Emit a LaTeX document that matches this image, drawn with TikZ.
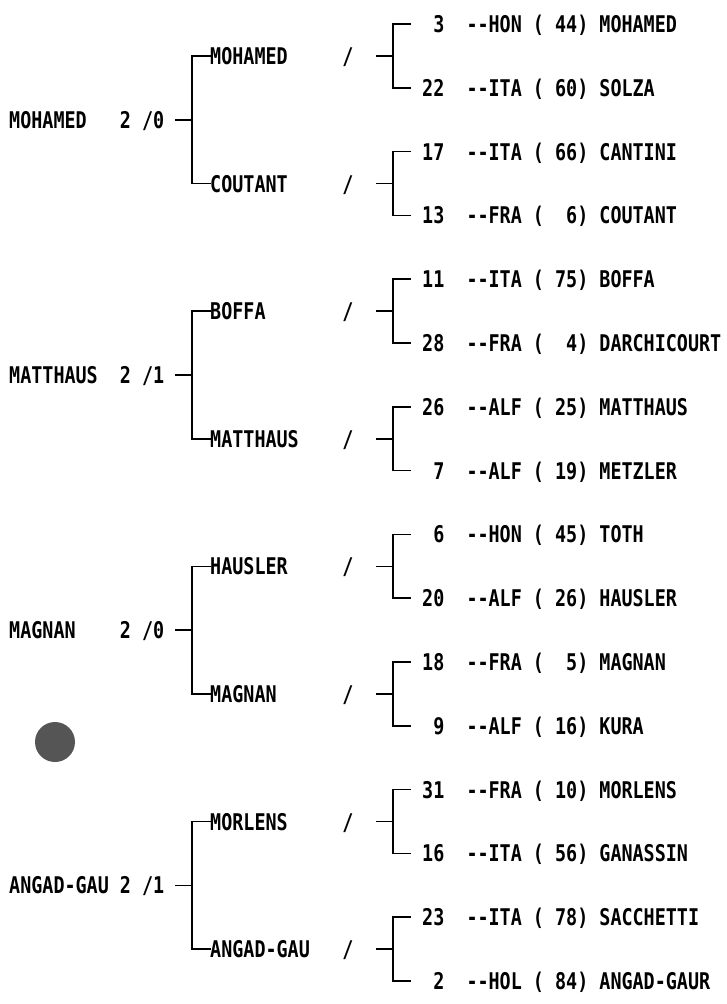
\documentclass[tikz,border=0pt]{standalone}
\usepackage{fontspec}
\newfontfamily\dm[FakeStretch=0.80]{DejaVu Sans Mono}
\newcommand\myb{\hphantom{0}}
\newcommand\rowtxt[4]{#1\myb\myb--#2\myb(#3)\myb#4}
\definecolor{dotgray}{RGB}{85,85,85}
\begin{document}
\begin{tikzpicture}[x=1pt,y=-1pt,
  txt/.style={inner sep=0pt, anchor=west, text height=17pt, text depth=0pt,
              font=\dm\bfseries\fontsize{23}{23}\selectfont},
  slash/.style={inner sep=0pt, anchor=center, text height=17pt, text depth=0pt,
              font=\dm\bfseries\fontsize{23}{23}\selectfont},
  ln/.style={line width=1.6pt, line cap=rect}]
\useasboundingbox (0,0) rectangle (726,1004);
% right column
\node[txt] (r1)  at (422,24.0)  {\rowtxt{\myb3}{HON}{\myb44}{MOHAMED}};
\node[txt] (r2)  at (422,87.8)  {\rowtxt{22}{ITA}{\myb60}{SOLZA}};
\node[txt] (r3)  at (422,151.6) {\rowtxt{17}{ITA}{\myb66}{CANTINI}};
\node[txt] (r4)  at (422,215.4) {\rowtxt{13}{FRA}{\myb\myb6}{COUTANT}};
\node[txt] (r5)  at (422,279.2) {\rowtxt{11}{ITA}{\myb75}{BOFFA}};
\node[txt] (r6)  at (422,343.0) {\rowtxt{28}{FRA}{\myb\myb4}{DARCHICOURT}};
\node[txt] (r7)  at (422,406.8) {\rowtxt{26}{ALF}{\myb25}{MATTHAUS}};
\node[txt] (r8)  at (422,470.6) {\rowtxt{\myb7}{ALF}{\myb19}{METZLER}};
\node[txt] (r9)  at (422,534.4) {\rowtxt{\myb6}{HON}{\myb45}{TOTH}};
\node[txt] (r10) at (422,598.2) {\rowtxt{20}{ALF}{\myb26}{HAUSLER}};
\node[txt] (r11) at (422,662.0) {\rowtxt{18}{FRA}{\myb\myb5}{MAGNAN}};
\node[txt] (r12) at (422,725.8) {\rowtxt{\myb9}{ALF}{\myb16}{KURA}};
\node[txt] (r13) at (422,789.6) {\rowtxt{31}{FRA}{\myb10}{MORLENS}};
\node[txt] (r14) at (422,853.4) {\rowtxt{16}{ITA}{\myb56}{GANASSIN}};
\node[txt] (r15) at (422,917.2) {\rowtxt{23}{ITA}{\myb78}{SACCHETTI}};
\node[txt] (r16) at (422,981.0) {\rowtxt{\myb2}{HOL}{\myb84}{ANGAD-GAUR}};
% right junctions and ticks
\foreach \k/\yy in {1/55.9,2/183.5,3/311.1,4/438.7,5/566.3,6/693.9,7/821.5,8/949.1}{
  \coordinate (j\k) at (393,\yy);
  \coordinate (t\k) at (377,\yy);
}
% middle column
\node[txt] (m1) at (210,55.9)  {MOHAMED};
\node[txt] (m2) at (210,183.5) {COUTANT};
\node[txt] (m3) at (210,311.1) {BOFFA};
\node[txt] (m4) at (210,438.7) {MATTHAUS};
\node[txt] (m5) at (210,566.3) {HAUSLER};
\node[txt] (m6) at (210,693.9) {MAGNAN};
\node[txt] (m7) at (210,821.5) {MORLENS};
\node[txt] (m8) at (210,949.1) {ANGAD-GAU};
\foreach \k/\yy in {1/55.9,2/183.5,3/311.1,4/438.7,5/566.3,6/693.9,7/821.5,8/949.1}{
  \node[slash] (s\k) at (348,\yy) {/};
}
% left column
\node[txt] (L1) at (9,119.7) {MOHAMED\myb\myb\myb2\myb/0};
\node[txt] (L2) at (9,374.9) {MATTHAUS\myb\myb2\myb/1};
\node[txt] (L3) at (9,630.1) {MAGNAN\myb\myb\myb\myb2\myb/0};
\node[txt] (L4) at (9,885.3) {ANGAD-GAU\myb2\myb/1};
\coordinate (J1) at (192,119.7);
\coordinate (J2) at (192,374.9);
\coordinate (J3) at (192,630.1);
\coordinate (J4) at (192,885.3);
% right brackets
\foreach \k/\a/\b in {1/r1/r2,2/r3/r4,3/r5/r6,4/r7/r8,5/r9/r10,6/r11/r12,7/r13/r14,8/r15/r16}{
  \draw[ln] ([xshift=-12pt]\a.west) -| (j\k) |- ([xshift=-12pt]\b.west);
  \draw[ln] (t\k) -- (j\k);
}
% middle brackets
\foreach \k/\a/\b in {1/m1/m2,2/m3/m4,3/m5/m6,4/m7/m8}{
  \draw[ln] (\a.west) -| (J\k) |- (\b.west);
  \draw[ln] ([xshift=11pt]L\k.east) -- (J\k);
}
% grey dot
\node[circle, fill=dotgray, inner sep=0pt, minimum size=40pt] (dot) at (55,742) {};
\end{tikzpicture}
\end{document}
